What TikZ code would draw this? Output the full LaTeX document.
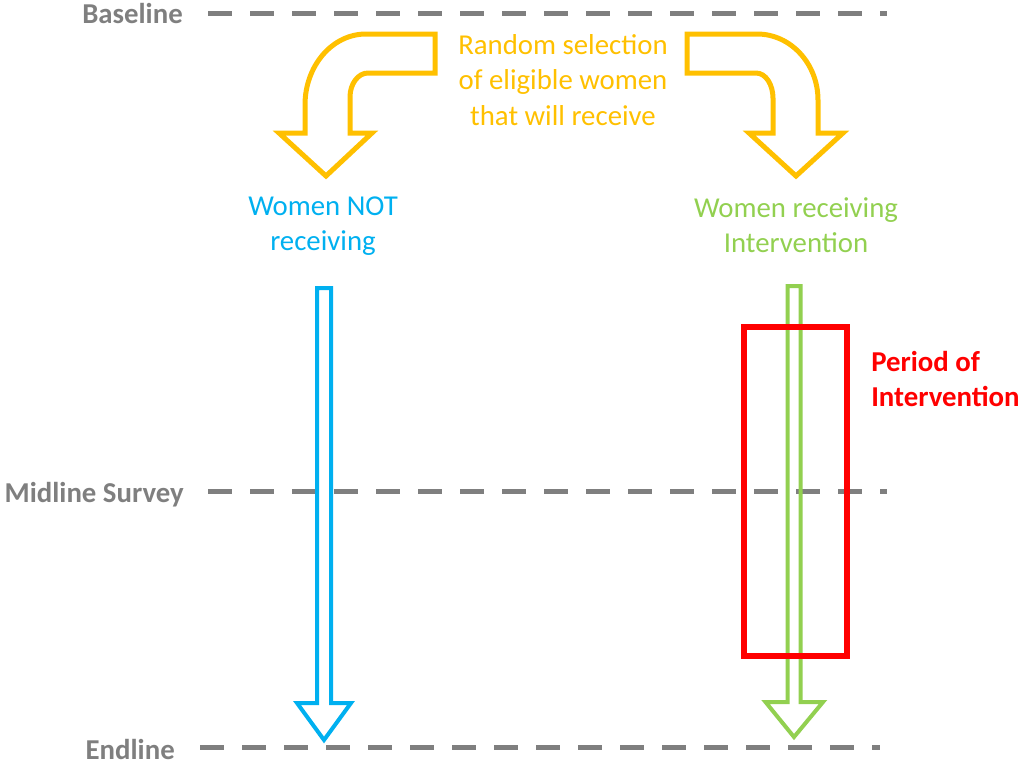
\documentclass[tikz,border=0pt]{standalone}
\usepackage{fontspec}
\setmainfont{Carlito}
\definecolor{labelgray}{HTML}{7F7F7F}
\definecolor{selgold}{HTML}{FFC000}
\definecolor{ctrlblue}{HTML}{00B0F0}
\definecolor{treatgreen}{HTML}{92D050}
\definecolor{periodred}{HTML}{FF0000}
\tikzset{
  phase/.style={draw=labelgray, line width=3.75pt, dash pattern=on 18pt off 13.5pt},
  phaselabel/.style={text=labelgray, font=\fontsize{21.6}{26.5}\selectfont\bfseries, inner sep=0pt, anchor=base east},
  bodytext/.style={font=\fontsize{21.6}{26.5}\selectfont, align=center, inner sep=0pt},
  bentarrow/.style={draw=selgold, line width=3.75pt, line join=miter},
  timearrow/.style={line width=3pt, line join=miter},
}
\begin{document}
\begin{tikzpicture}[x=0.75pt, y=-0.75pt]
\useasboundingbox (0,0) rectangle (1026,764);

% survey rounds
\node[phaselabel] (base) at (183,23) {Baseline};
\node[phaselabel] (mid) at (184,502) {Midline Survey};
\node[phaselabel] (end) at (175,759) {Endline};
\coordinate (baseR) at (887,13);
\coordinate (midR) at (887,491);
\coordinate (endR) at (880,747);
\draw[phase] (208,13) -- (baseR);
\draw[phase] (208,491) -- (midR);
\draw[phase] (200,747) -- (endR);

% group labels
\node[bodytext, text=selgold] (sel) at (563,80) {Random selection\\of eligible women\\that will receive};
\node[bodytext, text=ctrlblue] (ctrl) at (323,226) {Women NOT\\receiving};
\node[bodytext, text=treatgreen] (treat) at (796,225) {Women receiving\\Intervention};
\node[bodytext, align=left, anchor=west, text=periodred, font=\fontsize{21.6}{26.5}\selectfont\bfseries] (period) at (871,379) {Period of\\Intervention};

% bent arrows from the selection
\draw[bentarrow] (435,34) -- (366,34) .. controls (332,34) and (305,66) .. (305,105)
  -- (305,133) -- (279,133) -- (326,176) -- (372,133) -- (350,133) -- (350,97)
  .. controls (350,84) and (358,73) .. (368,73) -- (435,73) -- cycle;
\draw[bentarrow] (687,34) -- (757,34) .. controls (791,34) and (818,64) .. (818,100)
  -- (818,133) -- (843,133) -- (796,176) -- (749,133) -- (773,133) -- (773,98)
  .. controls (773,85) and (766,73) .. (756,73) -- (687,73) -- cycle;

% follow-up arrows
\draw[timearrow, draw=ctrlblue] (317,288) -- (331,288) -- (331,703) -- (351,703)
  -- (324,740) -- (297,703) -- (317,703) -- cycle;
\draw[timearrow, draw=treatgreen] (787.5,286) -- (800.5,286) -- (800.5,702) -- (823,702)
  -- (794,737) -- (765.5,702) -- (787.5,702) -- cycle;

% intervention window
\draw[periodred, line width=4.5pt] (744,327) rectangle (847,656);
\end{tikzpicture}
\end{document}
